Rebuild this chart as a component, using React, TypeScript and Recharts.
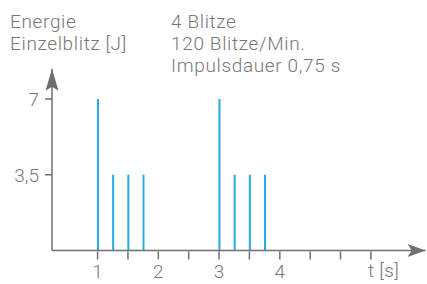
import React from "react";
import { ComposedChart, Bar, XAxis, YAxis, ReferenceDot } from "recharts";

if (typeof document !== "undefined") document.body.style.margin = "0";

const times = [1, 1.25, 1.5, 1.75, 3, 3.25, 3.5, 3.75];
const energies = [7, 3.5, 3.5, 3.5, 7, 3.5, 3.5, 3.5];
const xTicks = [1, 1.5, 2, 2.5, 3, 3.5, 4, 4.5, 5, 5.5];
const xLabels = ["1", "2", "3", "4"];
const yTicks = [3.5, 7];
const yLabels = ["3,5", "7"];
const headerLeft = ["Energie", "Einzelblitz [J]"];
const headerRight = ["4 Blitze", "120 Blitze/Min.", "Impulsdauer 0,75 s"];
const xUnit = "t [s]";

const data = times.map((t, i) => ({ t, e: energies[i] }));

const AXIS = "#6f6f6f";
const TEXT = "#777777";
const BLUE = "#29abe2";
const FONT = "Roboto, sans-serif";

const X_MIN = 0.25;
const X_MAX = 6.4;
const Y_MAX = 8.4;

const ArrowRight = (props: any) => {
  const { cx, cy } = props;
  const L = 18, H = 6.5, N = 4;
  return (
    <polygon
      points={`${cx},${cy} ${cx - L},${cy - H} ${cx - L + N},${cy} ${cx - L},${cy + H}`}
      fill={AXIS}
    />
  );
};
const ArrowUp = (props: any) => {
  const { cx, cy } = props;
  const L = 22, H = 6.5, N = 4;
  return (
    <polygon
      points={`${cx},${cy} ${cx - H},${cy + L} ${cx},${cy + L - N} ${cx + H},${cy + L}`}
      fill={AXIS}
    />
  );
};

const XTick = (props: any) => {
  const { x, y, payload } = props;
  const label = Number.isInteger(payload.value) ? String(payload.value) : "";
  return (
    <g>
      <line x1={x} y1={y - 9} x2={x} y2={y - 1} stroke={AXIS} strokeWidth={1.5} />
      {label && xLabels.includes(label) ? (
        <text x={x} y={y + 17} textAnchor="middle" fill={TEXT} fontSize={19} fontWeight={300} fontFamily={FONT}>
          {label}
        </text>
      ) : null}
    </g>
  );
};

const YTick = (props: any) => {
  const { y, payload } = props;
  const idx = yTicks.indexOf(payload.value);
  return (
    <text x={39} y={y + 7} textAnchor="end" fill={TEXT} fontSize={19} fontWeight={300} fontFamily={FONT}>
      {idx >= 0 ? yLabels[idx] : ""}
    </text>
  );
};

export default function App() {
  const W = 427;
  const H = 284;
  const headStyle: React.CSSProperties = {
    position: "absolute",
    top: 10.5,
    fontSize: 19,
    lineHeight: "22px",
    letterSpacing: 0.65,
    fontWeight: 300,
    whiteSpace: "nowrap",
  };
  return (
    <div style={{ position: "relative", width: W, height: H, fontFamily: FONT, color: TEXT }}>
      <div style={{ ...headStyle, left: 10 }}>
        {headerLeft.map((s) => (
          <div key={s}>{s}</div>
        ))}
      </div>
      <div style={{ ...headStyle, left: 171 }}>
        {headerRight.map((s) => (
          <div key={s}>{s}</div>
        ))}
      </div>
      <div style={{ ...headStyle, left: 368, top: 259.5, letterSpacing: 0.3 }}>{xUnit}</div>
      <div style={{ position: "absolute", left: 0, top: 0 }}>
        <ComposedChart
          width={W}
          height={H}
          data={data}
          margin={{ top: 68.7, right: 1.4, bottom: 0, left: 0 }}
        >
          <XAxis
            dataKey="t"
            type="number"
            domain={[X_MIN, X_MAX]}
            ticks={xTicks}
            allowDataOverflow
            axisLine={{ stroke: AXIS, strokeWidth: 1.5 }}
            tickLine={false}
            tick={<XTick />}
            tickSize={8}
            height={33.5}
            interval={0}
          />
          <YAxis
            type="number"
            domain={[0, Y_MAX]}
            ticks={yTicks}
            allowDataOverflow
            axisLine={{ stroke: AXIS, strokeWidth: 1.5 }}
            tickLine={{ stroke: AXIS, strokeWidth: 1.5 }}
            tickSize={7}
            tick={<YTick />}
            width={52}
            interval={0}
          />
          <Bar dataKey="e" fill={BLUE} barSize={2} isAnimationActive={false} />
          <ReferenceDot x={X_MAX} y={0} r={0} shape={<ArrowRight />} ifOverflow="visible" />
          <ReferenceDot x={X_MIN} y={Y_MAX} r={0} shape={<ArrowUp />} ifOverflow="visible" />
        </ComposedChart>
      </div>
    </div>
  );
}
